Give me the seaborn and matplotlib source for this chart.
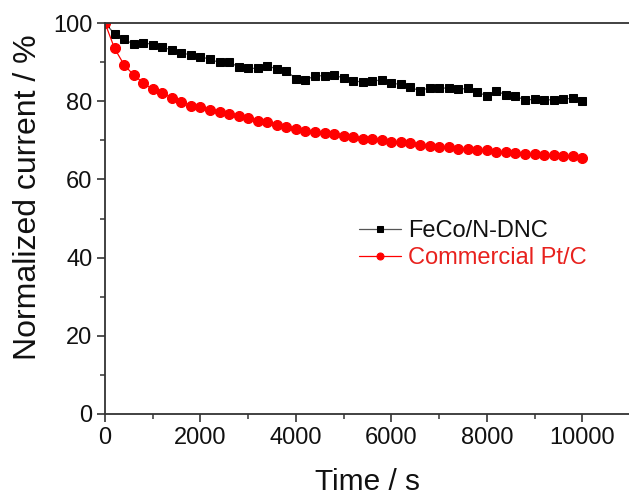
import numpy as np
import pandas as pd
import matplotlib
matplotlib.use("Agg")
import matplotlib.pyplot as plt
from matplotlib.ticker import MultipleLocator
import seaborn as sns

# Chronoamperometric stability: normalized current vs time, sampled every 200 s
time_s = list(range(0, 10001, 200))

feco_ndnc = [100.0, 97.2, 95.8, 94.6, 95.0, 94.5, 93.8, 93.1, 92.4, 91.8,
             91.4, 90.7, 89.9, 90.1, 88.7, 88.4, 88.4, 89.1, 88.2, 87.8,
             85.7, 85.4, 86.5, 86.5, 86.7, 85.9, 85.2, 84.9, 85.2, 85.4,
             84.6, 84.3, 83.6, 82.6, 83.5, 83.3, 83.4, 83.0, 83.3, 82.3,
             81.4, 82.6, 81.6, 81.3, 80.3, 80.5, 80.3, 80.4, 80.6, 80.7,
             80.1]

pt_c = [100.0, 93.5, 89.3, 86.7, 84.7, 83.0, 82.0, 80.9, 79.9, 78.8,
        78.4, 77.7, 77.3, 76.6, 76.2, 75.6, 75.0, 74.6, 73.9, 73.5,
        72.9, 72.5, 72.2, 71.8, 71.6, 71.1, 70.9, 70.4, 70.3, 70.1,
        69.6, 69.6, 69.2, 68.8, 68.6, 68.4, 68.2, 67.9, 67.9, 67.5,
        67.5, 67.1, 67.0, 66.8, 66.6, 66.5, 66.3, 66.2, 66.1, 66.0,
        65.6]

labels = ["FeCo/N-DNC", "Commercial Pt/C"]
x_ticks = [0, 2000, 4000, 6000, 8000, 10000]

df_feco = pd.DataFrame({"t": time_s, "i": feco_ndnc})
df_pt = pd.DataFrame({"t": time_s, "i": pt_c})

sns.set_style("ticks")
plt.rcParams["font.family"] = ["Liberation Sans", "DejaVu Sans"]

fig = plt.figure(figsize=(6.29, 4.96), dpi=100)
ax = fig.add_axes([105 / 629, 82 / 496, 525 / 629, 391 / 496])

sns.lineplot(data=df_feco, x="t", y="i", ax=ax, color="#555555", lw=0.9,
             marker="s", markersize=6.3, markerfacecolor="black",
             markeredgecolor="black", label=labels[0])
sns.lineplot(data=df_pt, x="t", y="i", ax=ax, color="#ff0000", lw=0.9,
             marker="o", markersize=7.2, markerfacecolor="#ff0000",
             markeredgecolor="#ff0000", label=labels[1])

ax.set_xlim(0, 11000)
ax.set_ylim(0, 100)
ax.set_xticks(x_ticks)
ax.xaxis.set_minor_locator(MultipleLocator(1000))
ax.yaxis.set_major_locator(MultipleLocator(20))
ax.yaxis.set_minor_locator(MultipleLocator(10))

spine_c = "#333333"
for side in ["left", "bottom", "top"]:
    ax.spines[side].set_color(spine_c)
    ax.spines[side].set_linewidth(1.3)
ax.spines["right"].set_visible(False)

ax.tick_params(which="major", direction="out", length=6, width=1.2,
               color=spine_c, labelsize=17, pad=3, labelcolor="#111111")
ax.tick_params(which="minor", direction="out", length=3.5, width=1.1,
               color=spine_c)
ax.tick_params(axis="x", top=False, which="both")

ax.set_xlabel("Time / s", fontsize=21.5, color="#111111", labelpad=14)
ax.set_ylabel("Normalized current / %", fontsize=23, color="#111111")
ax.yaxis.set_label_coords(-62 / 525, 0.555)

leg = ax.legend(loc="upper left", bbox_to_anchor=(350 / 629, 1 - 211 / 496),
                bbox_transform=fig.transFigure, frameon=False, fontsize=17,
                handlelength=1.75, handletextpad=0.3, labelspacing=0.2,
                borderaxespad=0, markerscale=0.7)
for txt, c in zip(leg.get_texts(), ["#111111", "#e8221e"]):
    txt.set_color(c)

fig.savefig("out.png", dpi=100)
